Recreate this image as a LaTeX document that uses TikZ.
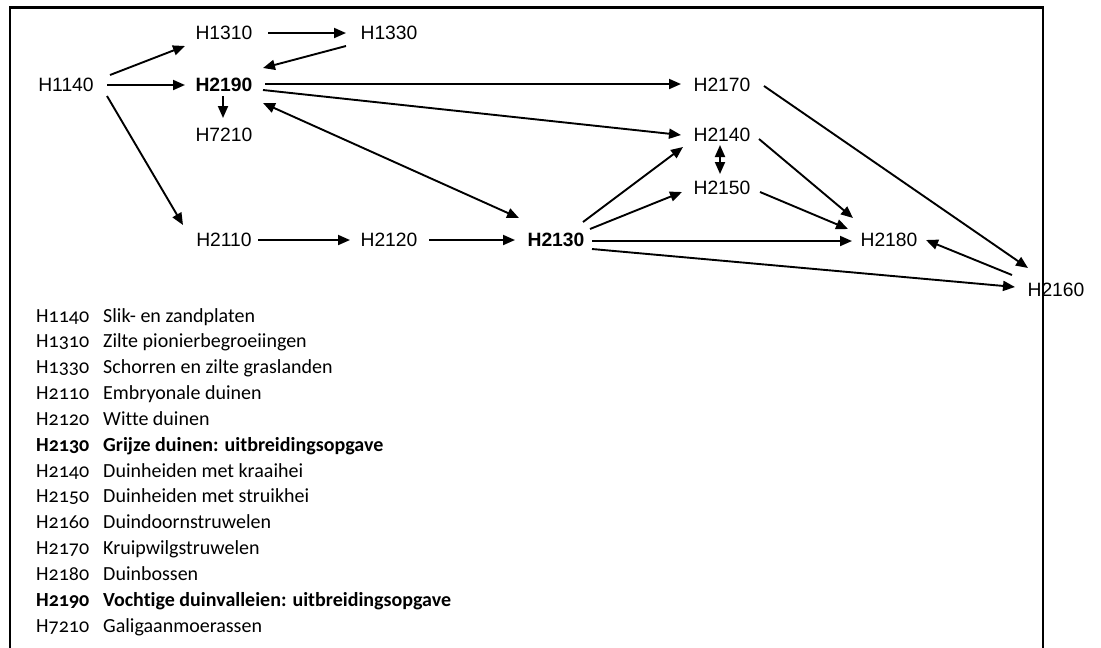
\documentclass[tikz,border=0pt]{standalone}
\usepackage{fontspec}
\setmainfont{Liberation Sans}
\newfontfamily\legfont[Numbers=OldStyle,Ligatures={NoCommon}]{Carlito}
\usetikzlibrary{arrows.meta,calc}
\begin{document}
\begin{tikzpicture}[x=1pt,y=-1pt,
 hab/.style={inner sep=0pt, font=\fontsize{19.3}{23}\selectfont},
 habb/.style={inner sep=0pt, font=\fontsize{19.3}{23}\selectfont\bfseries},
 arr/.style={line width=1.9pt, -{Triangle[length=12pt,width=10pt]}},
 darr/.style={line width=1.9pt, {Triangle[length=12pt,width=10pt]}-{Triangle[length=12pt,width=10pt]}},
 leg/.style={anchor=base west, inner sep=0pt, font=\legfont\fontsize{20}{24}\selectfont},
 legb/.style={anchor=base west, inner sep=0pt, font=\legfont\fontsize{20}{24}\selectfont\bfseries},
 frame/.style={line width=2.2pt}]
\useasboundingbox (0,0) rectangle (1101,648);

% habitat nodes
\node[hab]  (h1140) at (66,85)   {H1140};
\node[hab]  (h1310) at (224,33)  {H1310};
\node[hab]  (h1330) at (389,33)  {H1330};
\node[habb] (h2190) at (224,85)  {H2190};
\node[hab]  (h7210) at (224,135) {H7210};
\node[hab]  (h2170) at (722,85)  {H2170};
\node[hab]  (h2140) at (722,135) {H2140};
\node[hab]  (h2150) at (722,188) {H2150};
\node[hab]  (h2110) at (224,240) {H2110};
\node[hab]  (h2120) at (389,240) {H2120};
\node[habb] (h2130) at (556,240) {H2130};
\node[hab]  (h2180) at (889,240) {H2180};
\node[hab]  (h2160) at (1056,290) {H2160};

% connectors
\draw[arr] ($(h1140)+(44,-10)$) -- ($(h1310)+(-39,13)$);
\draw[arr] ($(h1140)+(41,0)$) -- ($(h2190)+(-39,0)$);
\draw[arr] ($(h1140)+(41,11)$) -- ($(h2110)+(-41,-15)$);
\draw[arr] ($(h1310)+(44,0)$) -- ($(h1330)+(-43,0)$);
\draw[arr] ($(h1330)+(-43,13)$) -- ($(h2190)+(39,-17)$);
\draw[arr] ($(h2190)+(-1,11)$) -- ($(h7210)+(-1,-17)$);
\draw[arr] ($(h2190)+(41,-1)$) -- ($(h2170)+(-41,-1)$);
\draw[arr] ($(h2190)+(39,5)$) -- ($(h2140)+(-41,0)$);
\draw[darr] ($(h2190)+(39,18)$) -- ($(h2130)+(-37,-22)$);
\draw[arr] ($(h2110)+(34,0)$) -- ($(h2120)+(-39,0)$);
\draw[arr] ($(h2120)+(40,0)$) -- ($(h2130)+(-41,0)$);
\draw[arr] ($(h2130)+(27,-18)$) -- ($(h2140)+(-39,12)$);
\draw[arr] ($(h2130)+(34,-11)$) -- ($(h2150)+(-40,4)$);
\draw[arr] ($(h2130)+(36,1)$) -- ($(h2180)+(-37,1)$);
\draw[arr] ($(h2130)+(36,9)$) -- ($(h2160)+(-41,-3)$);
\draw[darr] ($(h2140)+(-2,10)$) -- ($(h2150)+(-2,-14)$);
\draw[arr] ($(h2140)+(37,4)$) -- ($(h2180)+(-36,-22)$);
\draw[arr] ($(h2150)+(38,4)$) -- ($(h2180)+(-41,-11)$);
\draw[arr] ($(h2170)+(42,1)$) -- ($(h2160)+(-28,-22)$);
\draw[arr] ($(h2160)+(-44,-15)$) -- ($(h2180)+(37,0)$);

% legend
\node[leg]  (c1)  at (36,322)    {H1140};  \node[leg]  (t1)  at (103,322)    {Slik- en zandplaten};
\node[leg]  (c2)  at (36,347.85) {H1310};  \node[leg]  (t2)  at (103,347.85) {Zilte pionierbegroeiingen};
\node[leg]  (c3)  at (36,373.7)  {H1330};  \node[leg]  (t3)  at (103,373.7)  {Schorren en zilte graslanden};
\node[leg]  (c4)  at (36,399.55) {H2110};  \node[leg]  (t4)  at (103,399.55) {Embryonale duinen};
\node[leg]  (c5)  at (36,425.4)  {H2120};  \node[leg]  (t5)  at (103,425.4)  {Witte duinen};
\node[legb] (c6)  at (36,451.25) {H2130};  \node[legb] (t6)  at (103,451.25) {Grijze duinen: uitbreidingsopgave};
\node[leg]  (c7)  at (36,477.1)  {H2140};  \node[leg]  (t7)  at (103,477.1)  {Duinheiden met kraaihei};
\node[leg]  (c8)  at (36,502.95) {H2150};  \node[leg]  (t8)  at (103,502.95) {Duinheiden met struikhei};
\node[leg]  (c9)  at (36,528.8)  {H2160};  \node[leg]  (t9)  at (103,528.8)  {Duindoornstruwelen};
\node[leg]  (c10) at (36,554.65) {H2170};  \node[leg]  (t10) at (103,554.65) {Kruipwilgstruwelen};
\node[leg]  (c11) at (36,580.5)  {H2180};  \node[leg]  (t11) at (103,580.5)  {Duinbossen};
\node[legb] (c12) at (36,606.35) {H2190};  \node[legb] (t12) at (103,606.35) {Vochtige duinvalleien: uitbreidingsopgave};
\node[leg]  (c13) at (36,632.2)  {H7210};  \node[leg]  (t13) at (103,632.2)  {Galigaanmoerassen};

% frame (open at the bottom)
\draw[frame] (10,652) -- (10,7.5) -- (1043,7.5) -- (1043,652);
\end{tikzpicture}
\end{document}
